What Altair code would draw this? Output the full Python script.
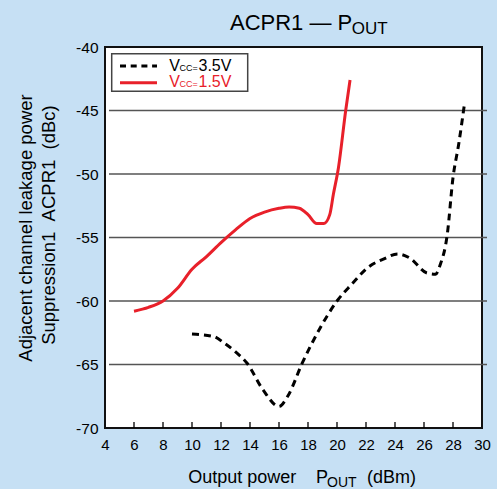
import altair as alt
import pandas as pd

# Vcc = 1.5 V curve
red_x = [6, 7, 8, 9, 10, 11, 12, 13, 14, 15, 16, 16.7, 17.4, 18.0, 18.6, 19.1, 19.5, 19.75, 20.1, 20.6, 20.9]
red_y = [-60.8, -60.5, -60.0, -59.0, -57.5, -56.5, -55.4, -54.4, -53.5, -53.0, -52.7, -52.6, -52.7,
         -53.2, -53.9, -53.9, -53.2, -51.6, -49.5, -45.0, -42.6]

# Vcc = 3.5 V curve
black_x = [10, 11.5, 12.2, 13, 13.8, 14.9, 16.0, 16.6, 17.6, 18.8, 20.0, 21.0, 22.2, 23.2, 24.2, 25.0,
           26.2, 26.8, 27.1, 27.6, 28.0, 28.4, 28.8]
black_y = [-62.6, -62.8, -63.3, -64.0, -64.9, -67.0, -68.3, -67.5, -64.9, -62.2, -60.0, -58.7, -57.3,
           -56.7, -56.3, -56.6, -57.8, -57.9, -57.2, -54.8, -50.3, -47.6, -44.4]

x_ticks = list(range(4, 31, 2))
y_ticks = list(range(-70, -39, 5))
grid_y = [-45, -50, -55, -60, -65]
inner_ticks = list(range(6, 29, 2))

FONT = "Liberation Sans"
RED = "#E8202A"
W, H = 377, 381
NB = "\u00a0"

xs = alt.Scale(domain=[4, 30], nice=False, zero=False)
ys = alt.Scale(domain=[-70, -40], nice=False, zero=False)
x_axis = alt.Axis(values=x_ticks, labelFont=FONT, labelFontSize=15, labelColor="black", labelPadding=9,
                  ticks=False, domain=False, grid=False, labelFlush=False, labelOverlap=False, title=None)
y_axis = alt.Axis(values=y_ticks, labelFont=FONT, labelFontSize=15.5, labelColor="black", labelPadding=7,
                  labelExpr="'' + datum.value",
                  ticks=False, domain=False, grid=False, labelFlush=False, labelOverlap=False, title=None)


def X(field):
    return alt.X(field, type="quantitative", scale=xs, axis=x_axis)


def Y(field):
    return alt.Y(field, type="quantitative", scale=ys, axis=y_axis)


def label(txt, x, y, size, color="black", angle=0, align="left"):
    return alt.Chart(pd.DataFrame({"t": [txt]})).mark_text(
        font=FONT, fontSize=size, color=color, align=align, baseline="alphabetic", angle=angle
    ).encode(x=alt.value(x), y=alt.value(y), text="t:N")


grid = alt.Chart(pd.DataFrame({"y": grid_y})).mark_rule(color="#555555", strokeWidth=1.5).encode(
    y=Y("y"), x=alt.value(4), x2=alt.value(W + 5)
)

ticks = alt.Chart(pd.DataFrame({"x": inner_ticks})).mark_rule(color="black", strokeWidth=1.3).encode(
    x=X("x"), y=alt.value(H), y2=alt.value(H - 6)
)

red = alt.Chart(pd.DataFrame({"x": red_x, "y": red_y})).mark_line(
    color=RED, strokeWidth=3, interpolate="monotone"
).encode(x=X("x"), y=Y("y"))

black = alt.Chart(pd.DataFrame({"x": black_x, "y": black_y})).mark_line(
    color="black", strokeWidth=3, strokeDash=[7, 5], interpolate="monotone"
).encode(x=X("x"), y=Y("y"))

# legend box
box = alt.Chart(pd.DataFrame({"a": [0]})).mark_rect(
    fill="white", stroke="#444444", strokeWidth=1.5
).encode(x=alt.value(6.7), x2=alt.value(142.7), y=alt.value(6.7), y2=alt.value(44.3))
leg_black = alt.Chart(pd.DataFrame({"a": [0]})).mark_rule(
    color="black", strokeWidth=3, strokeDash=[6, 4.7]
).encode(x=alt.value(15), x2=alt.value(52), y=alt.value(19))
leg_red = alt.Chart(pd.DataFrame({"a": [0]})).mark_rule(color=RED, strokeWidth=3).encode(
    x=alt.value(15), x2=alt.value(52), y=alt.value(35.7)
)

texts = [
    # title
    label("ACPR1 — P", 125, -17, 22),
    label("OUT", 246.7, -12.7, 17),
    # x axis title
    label("Output power", 83.3, 435.7, 18),
    label("P", 211, 435.7, 18),
    label("OUT", 222, 440, 14),
    label("(dBm)", 262, 435.7, 18),
    # y axis title
    label("Adjacent channel leakage power", -72.7, 181, 18.5, angle=270, align="center"),
    label(f"Suppression1{NB}{NB}ACPR1{NB}{NB}(dBc)", -50, 178, 18.5, angle=270, align="center"),
    # legend labels
    label("V", 64.3, 24, 16),
    label("CC=", 74.5, 24, 9),
    label("3.5V", 93.5, 24, 16),
    label("V", 64.3, 40, 16, color=RED),
    label("CC=", 74.5, 40, 9, color=RED),
    label("1.5V", 93.5, 40, 16, color=RED),
]

chart = alt.layer(grid, ticks, red, black, box, leg_black, leg_red, *texts).properties(
    width=W,
    height=H,
    background="#C6E0F4",
    autosize=alt.AutoSizeParams(type="none"),
    padding={"left": 105, "top": 47, "right": 15, "bottom": 61},
).configure_view(
    fill="white", stroke="#111111", strokeWidth=2
)

chart.save("out.html", embed_options={"renderer": "svg", "actions": False})
